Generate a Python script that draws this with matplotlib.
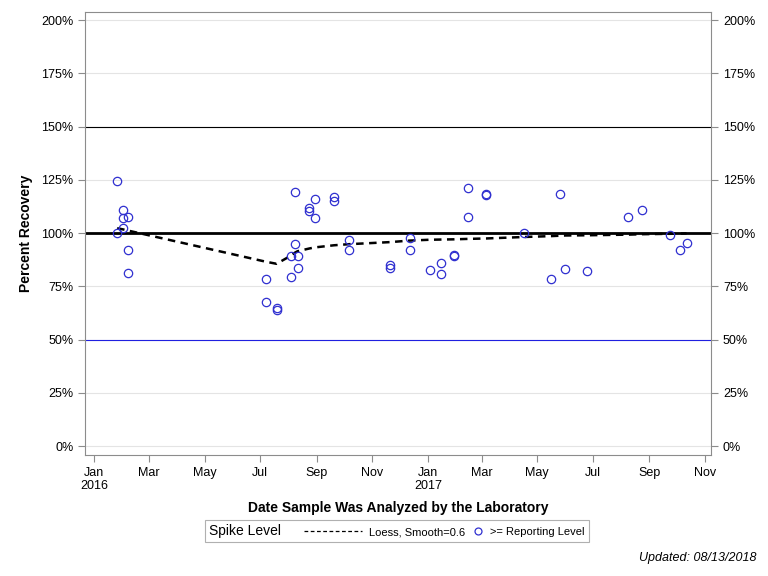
import matplotlib

matplotlib.use("Agg")
import matplotlib.pyplot as plt
from matplotlib.lines import Line2D
from matplotlib.offsetbox import AnchoredOffsetbox, DrawingArea, HPacker, TextArea
import pandas as pd

plt.rcParams["font.family"] = ["Liberation Sans", "DejaVu Sans"]

# Sample analysis dates and percent recovery
dates = pd.to_datetime([
    "2016-01-26", "2016-01-26", "2016-02-01", "2016-02-01", "2016-02-01", "2016-02-07",
    "2016-02-07", "2016-02-07",
    "2016-07-07", "2016-07-07", "2016-07-19", "2016-07-19",
    "2016-08-04", "2016-08-04", "2016-08-08", "2016-08-08", "2016-08-11", "2016-08-11",
    "2016-08-24", "2016-08-24", "2016-08-30", "2016-08-30",
    "2016-09-20", "2016-09-20", "2016-10-06", "2016-10-06",
    "2016-11-21", "2016-11-21", "2016-12-12", "2016-12-12",
    "2017-01-03", "2017-01-16", "2017-01-16", "2017-01-30", "2017-01-30",
    "2017-02-14", "2017-02-14", "2017-03-06", "2017-03-06",
    "2017-04-17", "2017-05-16", "2017-05-26", "2017-06-01", "2017-06-25",
    "2017-08-09", "2017-08-24", "2017-09-24", "2017-10-05", "2017-10-12",
])
recovery = [
    124.3, 100.0, 111.1, 106.9, 102.2, 107.4,
    91.9, 81.5,
    78.7, 67.9, 64.8, 63.8,
    79.2, 89.1, 94.7, 119.1, 89.5, 83.4,
    111.6, 110.5, 115.8, 106.9,
    116.8, 115.0, 96.6, 91.9,
    85.0, 83.4, 97.5, 92.3,
    82.6, 85.8, 80.6, 89.3, 89.8,
    121.0, 107.4, 118.2, 117.7,
    100.0, 78.7, 118.6, 83.0, 82.0,
    107.5, 110.8, 99.0, 92.3, 95.2,
]

# Loess fit (smooth=0.6) at each unique date
loess_dates = pd.to_datetime([
    "2016-01-26", "2016-02-01", "2016-02-07", "2016-07-07", "2016-07-19",
    "2016-08-04", "2016-08-08", "2016-08-11", "2016-08-24", "2016-08-30",
    "2016-09-20", "2016-10-06", "2016-11-21", "2016-12-12", "2017-01-03",
    "2017-01-16", "2017-01-30", "2017-02-14", "2017-03-06", "2017-04-17",
    "2017-05-16", "2017-05-26", "2017-06-01", "2017-06-25", "2017-08-09",
    "2017-08-24", "2017-09-24", "2017-10-05", "2017-10-12",
])
loess_vals = [
    102.3, 101.8, 101.2, 86.6, 85.6,
    89.5, 90.8, 91.5, 92.8, 93.3,
    94.3, 94.8, 95.8, 96.5, 96.9,
    97.0, 97.1, 97.3, 97.5, 98.2,
    98.6, 98.8, 98.9, 99.0, 99.3,
    99.5, 99.7, 99.8, 99.9,
]

spike_level = 100
upper_limit = 150
lower_limit = 50

yticks = [0, 25, 50, 75, 100, 125, 150, 175, 200]
xtick_dates = pd.date_range("2016-01-01", "2017-11-01", freq="2MS")

point_color = "#3030d0"
axis_gray = "#8c8c8c"

fig = plt.figure(figsize=(7.68, 5.76), dpi=100)
ax = fig.add_axes([0.111, 0.21, 0.815, 0.769])

for y in yticks:
    ax.axhline(y, color="#e4e4e4", lw=0.8, zorder=0)
ax.axhline(upper_limit, color="black", lw=0.8, zorder=1)
ax.axhline(lower_limit, color="#2020e0", lw=0.8, zorder=1)
ax.axhline(spike_level, color="black", lw=2.0, zorder=1)

ax.plot(loess_dates, loess_vals, color="black", lw=1.8, ls=(0, (3, 2.2)), zorder=2)
ax.plot(dates, recovery, ls="none", marker="o", ms=6, mfc="none", mec=point_color,
        mew=0.9, zorder=3)

ax.set_xlim(pd.Timestamp("2015-12-22"), pd.Timestamp("2017-11-08"))
ax.set_ylim(-4.2, 203.8)

ax.set_yticks(yticks)
ax.set_yticklabels([f"{v}%" for v in yticks], fontsize=9)
ax.set_xticks(xtick_dates)
xlabels = []
for d in xtick_dates:
    lab = d.strftime("%b")
    if d.month == 1:
        lab += "\n" + str(d.year)
    xlabels.append(lab)
ax.set_xticklabels(xlabels, fontsize=9, linespacing=1.1)

ax.tick_params(axis="both", colors=axis_gray, labelcolor="black", length=5, width=0.8)
ax.tick_params(axis="y", right=True, labelright=True)
for sp in ax.spines.values():
    sp.set_color(axis_gray)
    sp.set_linewidth(0.8)

ax.set_xlabel("Date Sample Was Analyzed by the Laboratory", fontsize=10,
              fontweight="bold", labelpad=7)
ax.set_ylabel("Percent Recovery", fontsize=10, fontweight="bold", labelpad=6)

# Legend built by hand so each entry can have its own symbol width
dash_box = DrawingArea(42, 8, 0, 0)
dash_box.add_artist(Line2D([0, 42], [3, 3], color="black", lw=0.9, ls=(0, (3, 2))))
circ_box = DrawingArea(8, 8, 0, 0)
circ_box.add_artist(Line2D([4], [3], ls="none", marker="o", ms=5, mfc="none",
                           mec=point_color, mew=0.9))
items = HPacker(children=[
    TextArea("Spike Level", textprops=dict(size=10)),
    DrawingArea(6, 8, 0, 0),
    dash_box,
    TextArea("Loess, Smooth=0.6", textprops=dict(size=8)),
    circ_box,
    TextArea(">= Reporting Level", textprops=dict(size=8)),
], align="baseline", pad=0, sep=5)
leg = AnchoredOffsetbox(loc="center", child=items, pad=0.3, borderpad=0,
                        bbox_to_anchor=(0.517, 0.078), bbox_transform=fig.transFigure,
                        frameon=True)
leg.patch.set_edgecolor("#b0b0b0")
leg.patch.set_linewidth(0.8)
leg.patch.set_boxstyle("square", pad=0)
fig.add_artist(leg)

fig.text(0.985, 0.02, "Updated: 08/13/2018", ha="right", va="bottom",
         fontsize=9, style="italic")

fig.savefig("out.png", dpi=100)
